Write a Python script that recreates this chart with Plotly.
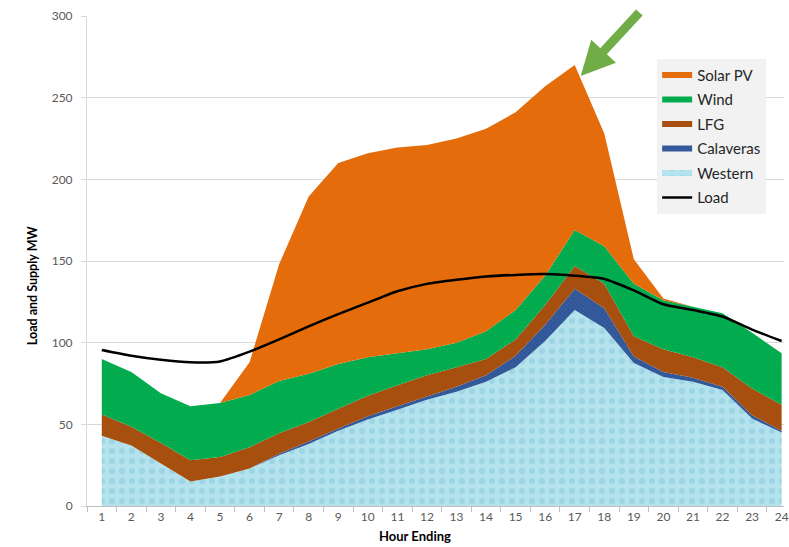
import plotly.graph_objects as go

# Hourly supply stack and load (MW)
hours = ["1", "2", "3", "4", "5", "6", "7", "8", "9", "10", "11", "12",
         "13", "14", "15", "16", "17", "18", "19", "20", "21", "22", "23", "24"]
western = [43, 37, 26, 15, 18, 23, 31, 38, 46, 53, 59, 65,
           70, 76, 85, 101, 120, 109, 87.5, 79, 76, 71, 53.5, 45]
calaveras = [0, 0, 0, 0, 0, 0, 1, 1.5, 1.5, 2, 2, 2,
             3, 4, 7, 10, 13, 12, 4, 3, 2.5, 2, 2, 1]
lfg = [13, 11.5, 12.5, 13, 12, 13, 12.5, 12, 12, 12.5, 13, 13,
       12, 10, 10, 12, 14, 15, 12.5, 14, 12.5, 12, 16.5, 16]
wind = [34, 33.5, 30.5, 33, 33, 32, 32, 29.5, 27.5, 23.5, 19.5, 16,
        15, 17, 18, 18, 22, 23, 32, 30, 31, 33, 34, 31.5]
solar = [0, 0, 0, 0, 0, 20, 71.5, 108.5, 123, 125, 126, 125,
         125, 124, 121, 116, 101, 69, 15, 1, 0, 0, 0, 0]
load = [95.5, 92, 89.5, 88, 88.5, 94.5, 102, 110, 117.5, 124.5, 131.5, 136,
        138.5, 140.5, 141.5, 142, 141, 139, 132, 123.5, 120, 116, 108, 101]

FONT = "Lato, 'Open Sans', sans-serif"
GRID = "#D9D9D9"
TICK_COLOR = "#595959"

fig = go.Figure()

# Stacked supply areas, bottom to top
stack = [
    ("Western", western, "#AEDFEB",
     dict(shape=".", fgcolor="#86C8DB", bgcolor="#B4E3EE", size=10, solidity=0.3), 5),
    ("Calaveras", calaveras, "#2F5597",
     dict(shape="x", fgcolor="#5578B8", bgcolor="#2F5597", size=3, solidity=0.3), 4),
    ("LFG", lfg, "#A64F0E", None, 3),
    ("Wind", wind, "#00B050",
     dict(shape=".", fgcolor="#0C9A48", bgcolor="#00B050", size=3, solidity=0.45), 2),
    ("Solar PV", solar, "#E46C0A", None, 1),
]
for name, values, color, pattern, rank in stack:
    fig.add_trace(go.Scatter(
        x=hours, y=values, name=name, stackgroup="supply", mode="none",
        fillcolor=color, fillpattern=pattern, legendrank=rank, legendgroup=name,
        hoverinfo="x+y+name",
    ))

fig.add_trace(go.Scatter(
    x=hours, y=load, name="Load", mode="lines",
    line=dict(color="#000000", width=2.5, shape="spline", smoothing=0.6),
    legendrank=6, legendgroup="Load",
))

# Arrow pointing at the evening supply peak (hour 17)
peak_idx = hours.index("17")
peak_total = (western[peak_idx] + calaveras[peak_idx] + lfg[peak_idx]
              + wind[peak_idx] + solar[peak_idx])
fig.add_annotation(
    x=peak_idx, y=peak_total,
    ax=60, ay=-96, xshift=6, yshift=-11, text="", showarrow=True,
    arrowcolor="#70AD47", arrowwidth=9, arrowhead=2, arrowsize=0.75,
)

# Axis titles
fig.add_annotation(
    x=-0.078, y=0.45, xref="paper", yref="paper", xanchor="center", yanchor="middle",
    text="<b>Load and Supply MW</b>", textangle=-90, showarrow=False,
    font=dict(family=FONT, size=12.5, color="#000000"),
)
fig.add_annotation(
    x=0.47, y=-0.062, xref="paper", yref="paper", text="<b>Hour Ending</b>",
    showarrow=False, yanchor="middle", font=dict(family=FONT, size=13, color="#000000"),
)

fig.update_layout(
    width=789, height=547,
    margin=dict(l=87, r=0, t=16, b=41),
    paper_bgcolor="#FFFFFF", plot_bgcolor="#FFFFFF",
    font=dict(family=FONT, size=12, color=TICK_COLOR),
    showlegend=True,
    legend=dict(
        x=0.818, y=0.913, xanchor="left", yanchor="top",
        bgcolor="#F2F2F2", borderwidth=0,
        font=dict(family=FONT, size=15, color="#262626"),
        traceorder="grouped", tracegroupgap=2,
        itemwidth=30,
    ),
    xaxis=dict(
        type="category", range=[-0.5, 23.08],
        showgrid=False, showline=True, linecolor="#BFBFBF", linewidth=1,
        ticks="outside", tickson="boundaries", ticklen=5, tickcolor="#BFBFBF",
        tickfont=dict(family=FONT, size=12, color=TICK_COLOR),
        fixedrange=True,
    ),
    yaxis=dict(
        range=[0, 300], dtick=50, showgrid=True, gridcolor=GRID, gridwidth=1,
        showline=True, linecolor="#D9D9D9", zeroline=False,
        ticks="outside", ticklen=5, tickcolor=GRID, ticklabelstandoff=6,
        tickfont=dict(family=FONT, size=12, color=TICK_COLOR),
    ),
)

fig.write_html("out.html")
